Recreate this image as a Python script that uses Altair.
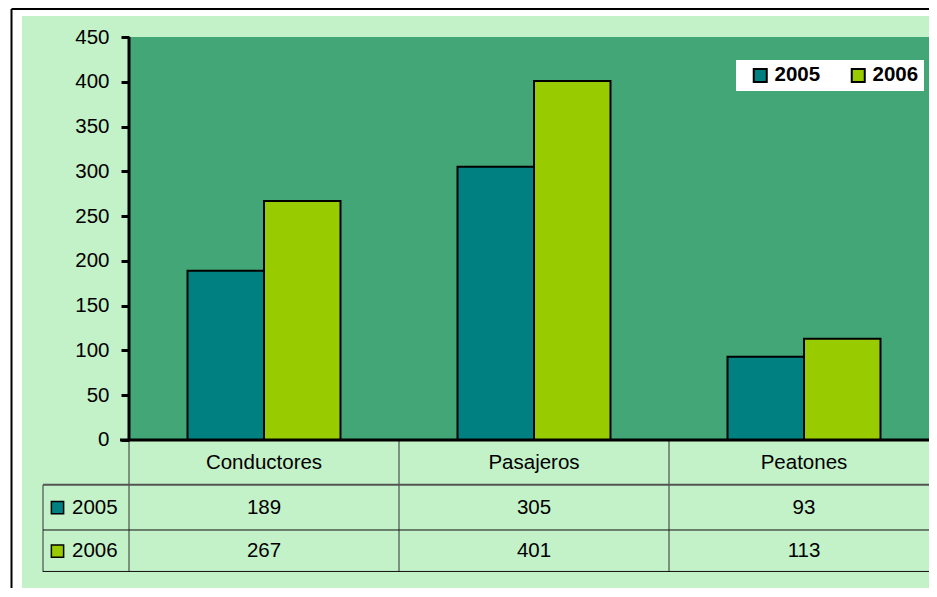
import altair as alt
import pandas as pd

# ---- data ----
categories = ["Conductores", "Pasajeros", "Peatones"]
years = ["2005", "2006"]
values_2005 = [189, 305, 93]
values_2006 = [267, 401, 113]
y_ticks = [0, 50, 100, 150, 200, 250, 300, 350, 400, 450]
colors = ["#008080", "#99cc00"]

df = pd.DataFrame({
    "cat": categories * 2,
    "year": [years[0]] * 3 + [years[1]] * 3,
    "value": values_2005 + values_2006,
})
cat_df = pd.DataFrame({"cat": categories})
year_df = pd.DataFrame({"year": years})
one = pd.DataFrame({"a": [0]})

W, H = 800, 535
FONT = "Liberation Sans"
FS = 20.5
YMIN, YMAX = -147.4, 450
LIGHT = "#c3f1c8"
DARK = "#43a677"

yscale = alt.Scale(domain=[YMIN, YMAX], nice=False, zero=False)
xscale = alt.Scale(domain=categories, paddingInner=0, paddingOuter=0, range=[0, 810])
cscale = alt.Scale(domain=years, range=colors)

def X(**kw):
    return alt.X("cat:N", scale=xscale, sort=categories, axis=None, **kw)

# outer background pattern area
bg = alt.Chart(one).mark_rect(color=LIGHT).encode(
    x=alt.value(-107), x2=alt.value(W), y=alt.value(-21), y2=alt.value(H + 18)
)
border_left = alt.Chart(one).mark_rule(color="black", strokeWidth=2).encode(
    x=alt.value(-117.5), y=alt.value(-28), y2=alt.value(H + 18)
)
border_top = alt.Chart(one).mark_rule(color="black", strokeWidth=2).encode(
    x=alt.value(-117.5), x2=alt.value(W), y=alt.value(-28)
)

# plot area
plot_bg = alt.Chart(one).mark_rect(color=DARK).encode(
    x=alt.value(0), x2=alt.value(W),
    y=alt.YDatum(YMAX, scale=yscale, axis=None), y2=alt.Y2Datum(0),
)

# bars
bars = alt.Chart(df).mark_bar(stroke="black", strokeWidth=2, opacity=1).encode(
    x=X(),
    xOffset=alt.XOffset("year:N", scale=alt.Scale(domain=years, paddingInner=0, paddingOuter=0.765)),
    y=alt.Y("value:Q", scale=yscale, title=None,
            axis=alt.Axis(values=y_ticks, domain=False, grid=False, tickSize=8, tickWidth=3,
                          tickColor="black", labelFontSize=FS, labelFont=FONT, labelColor="black",
                          labelPadding=12, zindex=1)),
    y2=alt.Y2Datum(0),
    color=alt.Color("year:N", scale=cscale,
                    legend=alt.Legend(orient="none", legendX=607, legendY=23, direction="horizontal",
                                      title=None, fillColor="white", padding=5, symbolType="square",
                                      symbolSize=169, symbolStrokeColor="black", symbolStrokeWidth=2,
                                      labelFontSize=FS, labelFontWeight="bold",
                                      labelFont=FONT, labelColor="black", columnPadding=18,
                                      labelOffset=4, symbolOffset=9, zindex=1)),
)

# axis lines
y_axis_line = alt.Chart(one).mark_rule(color="black", strokeWidth=3).encode(
    x=alt.value(0), y=alt.YDatum(YMAX, scale=yscale, axis=None), y2=alt.Y2Datum(0)
)
x_axis_line = alt.Chart(one).mark_rule(color="black", strokeWidth=3).encode(
    x=alt.value(-9), x2=alt.value(W), y=alt.YDatum(0, scale=yscale, axis=None)
)

# data table lines
vlines = alt.Chart(cat_df).mark_rule(color="#333333", strokeWidth=1).encode(
    x=X(bandPosition=0), y=alt.YDatum(0, scale=yscale, axis=None), y2=alt.Y2Datum(YMIN)
)
vline_left = alt.Chart(one).mark_rule(color="#333333", strokeWidth=1).encode(
    x=alt.value(-86), y=alt.YDatum(-50, scale=yscale, axis=None), y2=alt.Y2Datum(YMIN)
)
hline_header = alt.Chart(one).mark_rule(color="#555555", strokeWidth=2).encode(
    x=alt.value(-86), x2=alt.value(W), y=alt.YDatum(-50, scale=yscale, axis=None)
)
hline_mid = alt.Chart(one).mark_rule(color="#111111", strokeWidth=1).encode(
    x=alt.value(-86), x2=alt.value(W), y=alt.YDatum(-100.5, scale=yscale, axis=None)
)
hline_bottom = alt.Chart(one).mark_rule(color="#111111", strokeWidth=1).encode(
    x=alt.value(-86), x2=alt.value(W), y=alt.YDatum(YMIN + 0.6, scale=yscale, axis=None)
)

# data table text
cat_text = alt.Chart(cat_df).mark_text(fontSize=FS, font=FONT, color="black", baseline="middle").encode(
    x=X(), y=alt.YDatum(-25.5, scale=yscale, axis=None), text="cat:N"
)
val_text = alt.Chart(df).transform_calculate(
    rowy="datum.year == '2005' ? -75.5 : -124"
).mark_text(fontSize=FS, font=FONT, color="black", baseline="middle").encode(
    x=X(), y=alt.Y("rowy:Q", scale=yscale, axis=None), text="value:Q"
)
row_squares = alt.Chart(year_df).transform_calculate(
    rowy="datum.year == '2005' ? -75.5 : -124"
).mark_point(shape="square", size=150, filled=True, opacity=1, stroke="black", strokeWidth=1.5).encode(
    x=alt.value(-71.5), y=alt.Y("rowy:Q", scale=yscale, axis=None),
    fill=alt.Fill("year:N", scale=cscale, legend=None),
)
row_labels = alt.Chart(year_df).transform_calculate(
    rowy="datum.year == '2005' ? -75.5 : -124"
).mark_text(fontSize=FS, font=FONT, color="black", baseline="middle", align="left").encode(
    x=alt.value(-57), y=alt.Y("rowy:Q", scale=yscale, axis=None), text="year:N"
)

chart = alt.layer(
    bg, border_left, border_top, plot_bg, vlines, vline_left, hline_header, hline_mid,
    hline_bottom, bars, y_axis_line, x_axis_line, cat_text, val_text, row_squares, row_labels,
).resolve_axis(y="independent").properties(
    width=W, height=H,
    padding={"left": 121, "top": 29, "right": 0, "bottom": 16},
    autosize=alt.AutoSizeParams(type="none"),
    background="white",
).configure_view(stroke=None)

chart.save("out.html", embed_options={"renderer": "svg", "actions": False})
